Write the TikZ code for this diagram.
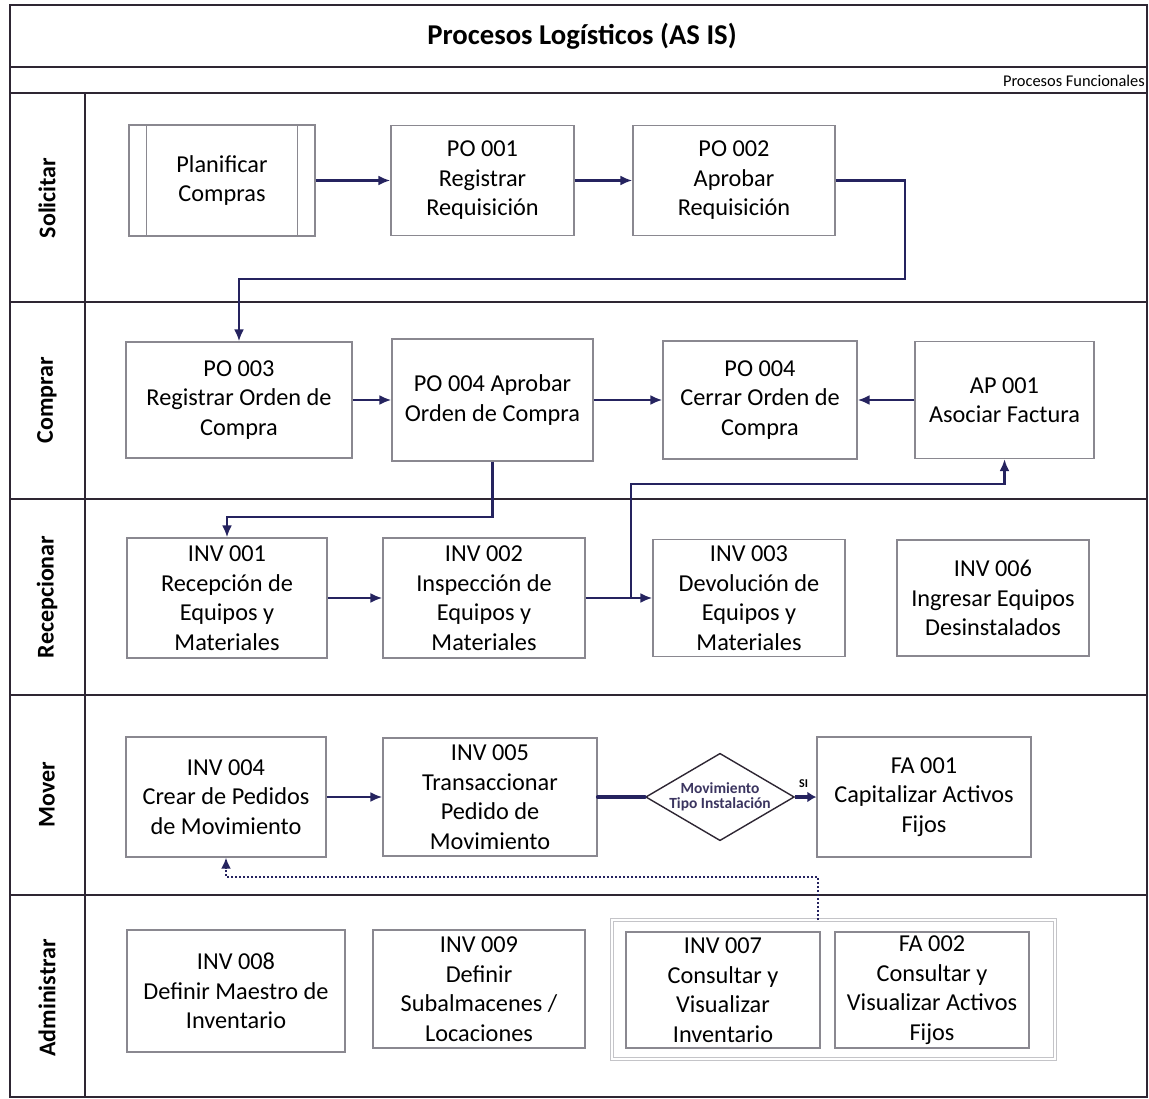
\documentclass[tikz,border=0pt]{standalone}
\usepackage{fontspec}
\setmainfont{Carlito}
\usetikzlibrary{arrows.meta,shapes.geometric}

\definecolor{framec}{HTML}{2E2633}
\definecolor{boxgray}{HTML}{8A8890}
\definecolor{navy}{HTML}{25235F}
\definecolor{grpgray}{HTML}{C4C4C8}
\definecolor{diatext}{HTML}{3B3560}

\begin{document}
\begin{tikzpicture}[x=1pt,y=-1pt,
  frame/.style={draw=framec,line width=2.2pt},
  proc/.style={draw=boxgray,line width=1.3pt,fill=white,align=center,inner sep=0pt,
               font=\fontsize{24.3}{29.5}\selectfont,text=black},
  flow/.style={draw=navy,line width=2.2pt,-{Latex[length=12pt,width=10pt]}},
  lanelabel/.style={font=\bfseries\fontsize{24}{28}\selectfont,rotate=90,text=black},
]
\useasboundingbox (0,0) rectangle (1149,1099);

% ---- pool frame, title and lanes ----
\draw[frame] (10,5) rectangle (1147,1097);
\draw[frame] (10,67) -- (1147,67);
\draw[frame] (10,93) -- (1147,93);
\foreach \yy in {302,499,695,895} \draw[frame] (10,\yy) -- (1147,\yy);
\draw[frame] (85,93) -- (85,1097);

\node[font=\bfseries\fontsize{28.7}{32}\selectfont] (title) at (582,36) {Procesos Logísticos (AS IS)};
\node[anchor=east,font=\fontsize{16.4}{18}\selectfont,inner sep=0pt] (sub) at (1145,81) {Procesos Funcionales};

\node[lanelabel] (l1) at (47,198) {Solicitar};
\node[lanelabel] (l2) at (47,400) {Comprar};
\node[lanelabel] (l3) at (47,597) {Recepcionar};
\node[lanelabel] (l4) at (47,795) {Mover};
\node[lanelabel] (l5) at (47,998) {Administrar};

% ---- Solicitar ----
\node[proc,minimum width=186pt,minimum height=111pt] (plan) at (222,180.5) {Planificar\\Compras};
\draw[boxgray,line width=1.3pt] ([xshift=18pt]plan.north west) -- ([xshift=18pt]plan.south west)
      ([xshift=-18pt]plan.north east) -- ([xshift=-18pt]plan.south east);
\node[proc,minimum width=183pt,minimum height=110pt] (po1) at (482.5,180.5) {PO 001\\Registrar\\Requisición};
\node[proc,minimum width=202pt,minimum height=110pt] (po2) at (734,180.5) {PO 002\\Aprobar\\Requisición};

% ---- Comprar ----
\node[proc,minimum width=226pt,minimum height=116pt] (po3) at (239,400) {PO 003\\Registrar Orden de\\Compra};
\node[proc,minimum width=201pt,minimum height=122pt] (po4a) at (492.5,400) {PO 004 Aprobar\\Orden de Compra};
\node[proc,minimum width=194pt,minimum height=118pt] (po4c) at (760,400) {PO 004\\Cerrar Orden de\\Compra};
\node[proc,minimum width=179pt,minimum height=117pt] (ap1) at (1004.5,400) {AP 001\\Asociar Factura};

% ---- Recepcionar ----
\node[proc,minimum width=200pt,minimum height=120pt] (inv1) at (227,598) {INV 001\\Recepción de\\Equipos y\\Materiales};
\node[proc,minimum width=202pt,minimum height=120pt] (inv2) at (484,598) {INV 002\\Inspección de\\Equipos y\\Materiales};
\node[proc,minimum width=192pt,minimum height=117pt] (inv3) at (749,598) {INV 003\\Devolución de\\Equipos y\\Materiales};
\node[proc,minimum width=192pt,minimum height=116pt] (inv6) at (993,598) {INV 006\\Ingresar Equipos\\Desinstalados};

% ---- Mover ----
\node[proc,minimum width=200pt,minimum height=120pt] (inv4) at (226,797) {INV 004\\Crear de Pedidos\\de Movimiento};
\node[proc,minimum width=214pt,minimum height=118pt] (inv5) at (490,797) {INV 005\\Transaccionar\\Pedido de\\Movimiento};
\node[diamond,draw=framec,line width=1.4pt,fill=white,inner sep=0pt,aspect=1.7,
      minimum width=146pt,minimum height=86pt,align=center,text=diatext,
      font=\bfseries\fontsize{15.5}{15.5}\selectfont] (dec) at (720,797) {Movimiento\\[-1pt]Tipo Instalación};
\node[proc,minimum width=214pt,minimum height=120pt] (fa1) at (924,797) {FA 001\\Capitalizar Activos\\Fijos};

% ---- Administrar ----
\node[draw=grpgray,line width=1.2pt,double=white,double distance=1.2pt,
      minimum width=443pt,minimum height=139pt,inner sep=0pt] (grp) at (833.5,989.5) {};
\node[proc,minimum width=218pt,minimum height=122pt] (inv8) at (236,991) {INV 008\\Definir Maestro de\\Inventario};
\node[proc,minimum width=212pt,minimum height=118pt] (inv9) at (479,989) {INV 009\\Definir\\Subalmacenes /\\Locaciones};
\node[proc,minimum width=194pt,minimum height=116pt] (inv7) at (723,990) {INV 007\\Consultar y\\Visualizar\\Inventario};
\node[proc,minimum width=194pt,minimum height=116pt] (fa2) at (932,990) {FA 002\\Consultar y\\Visualizar Activos\\Fijos};

% ---- connectors ----
\coordinate (k1) at (905,279);
\coordinate (k2) at (492.5,517);
\coordinate (k3) at (631,598);
\coordinate (k4) at (1004.5,484);
\coordinate (k5) at (818,920);
\coordinate (k6) at (226,877);

\draw[flow] (plan) -- (po1);
\draw[flow] (po1) -- (po2);
\draw[flow] (po2.east) -| (k1) -| (po3.north);

\draw[flow] (po3) -- (po4a);
\draw[flow] (po4a) -- (po4c);
\draw[flow] (ap1) -- (po4c);
\draw[flow] (po4a.south) -- (k2) -| (inv1.north);

\draw[flow] (inv1) -- (inv2);
\draw[flow] (inv2) -- (inv3);
\draw[flow] (k3) |- (k4) -- (ap1.south);

\draw[flow] (inv4) -- (inv5);
\draw[draw=navy,line width=3.4pt,line cap=round] (inv5.east) -- (dec.west);
\draw[draw=navy,line width=3.4pt,-{Latex[length=9pt,width=11pt]}] (dec.east) -- (fa1.west)
     node[pos=0.4,above=4pt,text=black,font=\bfseries\fontsize{12}{14}\selectfont] {SI};

\draw[draw=navy,line width=2pt,dotted,-{Latex[length=11pt,width=10pt]}] (k5) |- (k6) -- (inv4.south);

\end{tikzpicture}
\end{document}
